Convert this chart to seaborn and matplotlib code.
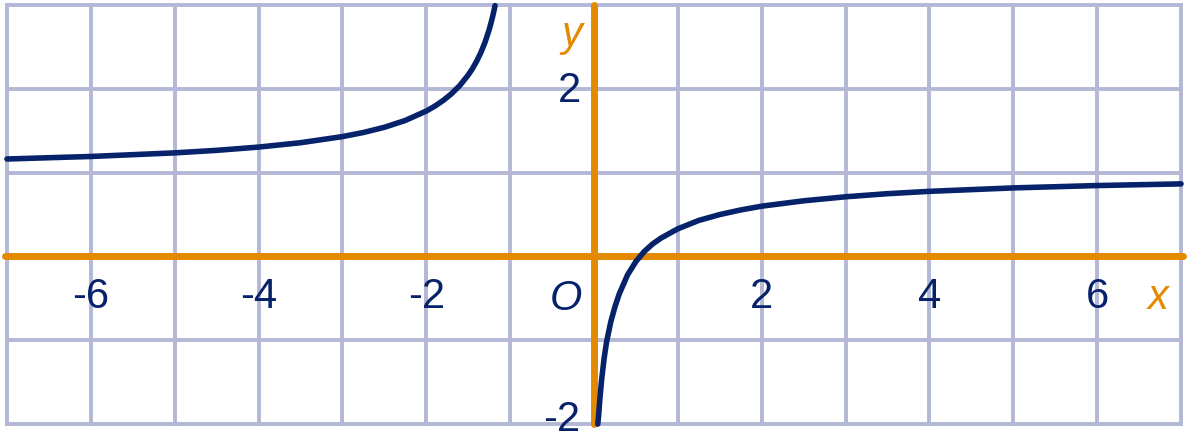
import matplotlib
matplotlib.use("Agg")
import matplotlib.pyplot as plt
import seaborn as sns

# curve points, two branches
left_x = [-7.0, -6.0, -5.0, -4.5, -4.0, -3.5, -3.0, -2.75, -2.5, -2.25, -2.0, -1.9,
          -1.8, -1.7, -1.6, -1.5, -1.45, -1.4, -1.35, -1.3, -1.25, -1.22, -1.2, -1.18]
left_y = [1.163, 1.193, 1.236, 1.266, 1.305, 1.357, 1.430, 1.479, 1.541, 1.623, 1.735, 1.792,
          1.860, 1.941, 2.040, 2.165, 2.240, 2.328, 2.431, 2.554, 2.706, 2.816, 2.899, 2.993]

right_x = [0.045, 0.055, 0.07, 0.09, 0.12, 0.15, 0.2, 0.25, 0.3, 0.4, 0.5, 0.6, 0.7, 0.8,
           1.0, 1.25, 1.5, 1.75, 2.0, 2.5, 3.0, 3.5, 4.0, 5.0, 6.0, 7.0]
right_y = [-2.0, -1.90, -1.70, -1.48, -1.22, -1.02, -0.78, -0.60, -0.45, -0.22, -0.06, 0.06,
           0.15, 0.22, 0.33, 0.43, 0.50, 0.555, 0.60, 0.664, 0.712, 0.749, 0.777, 0.818,
           0.846, 0.866]

grid_x = list(range(-7, 8))
grid_y = list(range(-2, 4))
x_ticks = [-6, -4, -2, 2, 4, 6]
x_tick_labels = ["-6", "-4", "-2", "2", "4", "6"]
y_ticks = [2, -2]
y_tick_labels = ["2", "-2"]

GRID = "#b3b8d6"
ORANGE = "#e38a00"
NAVY = "#06226a"

sns.set_style("white")
plt.rcParams["font.family"] = ["Liberation Sans", "DejaVu Sans"]

fig = plt.figure(figsize=(11.88, 4.4), dpi=100)
ax = fig.add_axes([0, 0, 1, 1])
ax.set_xlim(-7.083, 7.083)
ax.set_ylim(-2.19, 3.06)
ax.axis("off")

# grid
ax.vlines(grid_x, -2, 3, color=GRID, lw=2.8, capstyle="projecting", zorder=1)
ax.hlines(grid_y, -7, 7, color=GRID, lw=2.8, capstyle="projecting", zorder=1)

# axes
ax.plot([-7.02, 7.02], [0, 0], color=ORANGE, lw=5.0, solid_capstyle="round", zorder=2)
ax.plot([0, 0], [-2.0, 3.0], color=ORANGE, lw=5.0, solid_capstyle="round", zorder=2)

# curve
for xs, ys in [(left_x, left_y), (right_x, right_y)]:
    sns.lineplot(x=xs, y=ys, ax=ax, sort=False, estimator=None, color=NAVY,
                 lw=4.0, solid_capstyle="round", zorder=3)

fs = 30
for xv, lab in zip(x_ticks, x_tick_labels):
    ax.text(xv, -0.616, lab, fontsize=fs, color=NAVY, ha="center", va="baseline")
ax.text(-0.29, 1.843, y_tick_labels[0], fontsize=fs, color=NAVY, ha="center", va="baseline")
ax.text(-0.39, -2.08, y_tick_labels[1], fontsize=fs, color=NAVY, ha="center", va="baseline")
ax.text(-0.34, -0.64, "O", fontsize=fs, color=NAVY, ha="center", va="baseline", style="italic")
ax.text(6.73, -0.63, "x", fontsize=fs, color=ORANGE, ha="center", va="baseline", style="italic")
ax.text(-0.27, 2.51, "y", fontsize=fs, color=ORANGE, ha="center", va="baseline", style="italic")

fig.savefig("out.png", dpi=100)
